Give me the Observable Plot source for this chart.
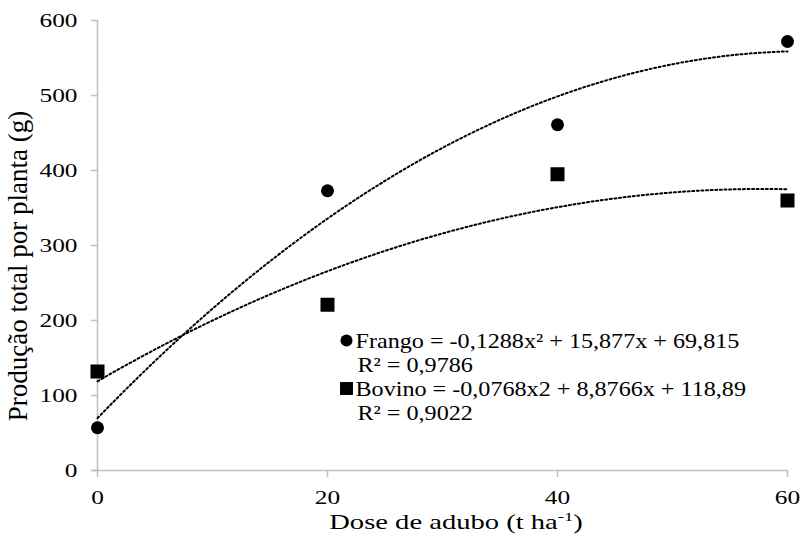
<!DOCTYPE html>
<html><head><meta charset="utf-8">
<script src="https://cdn.jsdelivr.net/npm/d3@7"></script>
<script src="https://cdn.jsdelivr.net/npm/@observablehq/plot@0.6"></script>
<style>
body{margin:0;background:#fff}
#chart svg text{font-family:"Liberation Serif","Times New Roman",serif}
</style>
</head><body><div id="chart"></div>
<script>
const doses = [0, 20, 40, 60];
const frango = [57, 373, 461, 572];
const bovino = [132, 221, 395, 360];
const frangoCoef = [-0.1288, 15.877, 69.815];
const bovinoCoef = [-0.0768, 8.8766, 118.89];
const xTicks = [0, 20, 40, 60];
const yTicks = [0, 100, 200, 300, 400, 500, 600];
const legendSymbols = ["circle", "square"];
const legendLines = [
  "Frango = -0,1288x² + 15,877x + 69,815",
  "R² = 0,9786",
  "Bovino = -0,0768x2 + 8,8766x + 118,89",
  "R² = 0,9022"
];
const xLabel = "Dose de adubo (t ha";
const yLabel = "Produção total por planta (g)";

const pts = doses.flatMap((d, i) => [
  {x: d, y: frango[i], s: "Frango"},
  {x: d, y: bovino[i], s: "Bovino"}
]);
const xs = d3.range(0, 60.001, 0.5);
const curve = (c, s) => xs.map(x => ({x, y: c[0]*x*x + c[1]*x + c[2], s}));
const trend = [...curve(frangoCoef, "Frango"), ...curve(bovinoCoef, "Bovino")];

const axisColor = "#bfbfbf";
const fs = 19.5;
const S = 1.3;    // horizontal stretch, tick labels
const SL = 1.15;  // horizontal stretch, legend
const fsL = 21;

const chart = Plot.plot({
  width: 801, height: 535,
  marginLeft: 97, marginRight: 14, marginTop: 20, marginBottom: 65,
  style: {fontSize: fs + "px", color: "#000", background: "#fff"},
  x: {domain: [0, 60], ticks: xTicks},
  y: {domain: [0, 600], ticks: yTicks},
  marks: [
    Plot.ruleY([0], {stroke: axisColor, strokeWidth: 1.5, x1: -0.5, x2: 60}),
    Plot.ruleX([0], {stroke: axisColor, strokeWidth: 1.5}),
    Plot.axisY(yTicks, {tickSize: 6, tickPadding: 14, stroke: axisColor, strokeWidth: 1.5, fill: "#000", fontSize: fs, label: null}),
    Plot.axisX(xTicks, {tickSize: 7, tickPadding: 13, stroke: axisColor, strokeWidth: 1.5, fill: "#000", fontSize: fs, label: null}),
    Plot.line(trend, {x: "x", y: "y", z: "s", stroke: "#000", strokeWidth: 2, strokeDasharray: "2,2.6"}),
    Plot.dot(pts.filter(d => d.s === "Frango"), {x: "x", y: "y", r: 6.5, fill: "#000", symbol: "circle"}),
    Plot.dot(pts.filter(d => d.s === "Bovino"), {x: "x", y: "y", r: 7.9, fill: "#000", symbol: "square"}),
    ...legendLines.map((t, i) => Plot.text([t], {text: d => d, frameAnchor: "top-left", textAnchor: "start", lineAnchor: "middle", dx: 258 + (i % 2 ? 2 : 0), dy: 321 + 24 * i, fontSize: fsL, fill: "#000"})),
    ...legendSymbols.map((t, i) => Plot.dot([t], {symbol: d => d, frameAnchor: "top-left", dx: 249, dy: 320 + 48 * i, r: i ? 7.3 : 6, fill: "#000"}))
  ]
});

const svg = d3.select(chart);
function stretchEl(el, k) {
  let t = el.getAttribute("transform");
  if (!t) {
    t = `translate(${el.getAttribute("x") || 0},${el.getAttribute("y") || 0})`;
    el.removeAttribute("x"); el.removeAttribute("y");
  }
  el.setAttribute("transform", t + ` scale(${k},1)`);
}
svg.selectAll("g[aria-label='y-axis tick label'] text, g[aria-label='x-axis tick label'] text").each(function() { stretchEl(this, S); });
svg.selectAll("text").filter(function() { return legendLines.includes(this.textContent); }).each(function() { stretchEl(this, SL); });

// axis titles
const xt = svg.append("text").attr("transform", `translate(456,529) scale(1.43,1)`).attr("text-anchor", "middle").attr("font-size", 20).attr("fill", "#000");
xt.append("tspan").text(xLabel);
xt.append("tspan").attr("dy", -8).attr("font-size", 13).text("-1");
xt.append("tspan").attr("dy", 8).text(")");
svg.append("text").attr("transform", "translate(27,266) rotate(-90)").attr("text-anchor", "middle").attr("font-size", 27).attr("fill", "#000").text(yLabel);

document.getElementById("chart").append(chart);
</script>
</body></html>
